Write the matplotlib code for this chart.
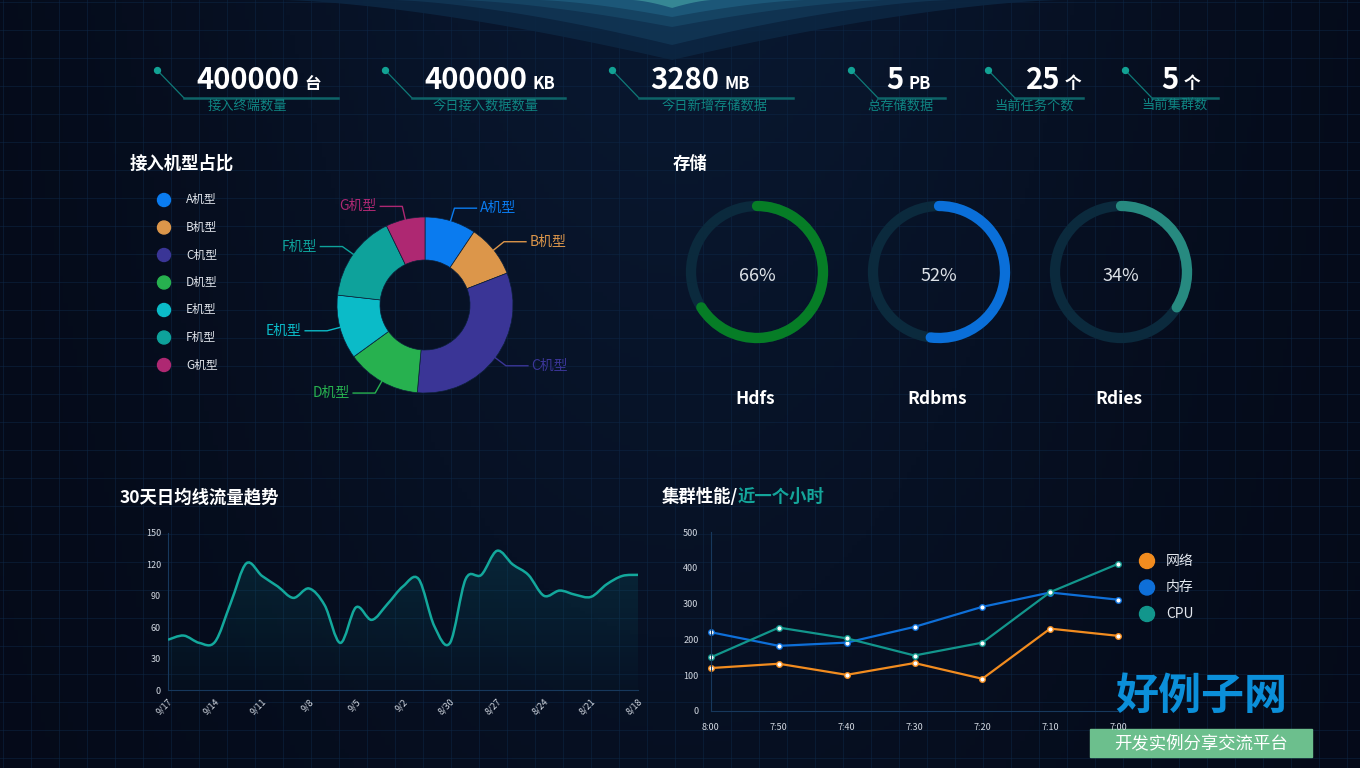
import numpy as np
import pandas as pd
import matplotlib
matplotlib.use('Agg')
import matplotlib.pyplot as plt
from matplotlib.path import Path
from matplotlib.patches import PathPatch, Arc, Circle, Rectangle

plt.rcParams['font.family'] = ['Noto Sans CJK SC', 'DejaVu Sans']

# ---- data ----
kpi_values = ['400000', '400000', '3280', '5', '25', '5']
kpi_units = ['台', 'KB', 'MB', 'PB', '个', '个']
kpi_labels = ['接入终端数量', '今日接入数据数量', '今日新增存储数据', '总存储数据', '当前任务个数', '当前集群数']

pie_names = ['A机型', 'B机型', 'C机型', 'D机型', 'E机型', 'F机型', 'G机型']
pie_values = [94, 97, 323, 136, 118, 160, 72]
pie_colors = ['#0a7bef', '#dc964a', '#3a3596', '#27b14f', '#0bbbc8', '#0ea29b', '#ae2872']

gauge_names = ['Hdfs', 'Rdbms', 'Rdies']
gauge_values = [66, 52, 34]
gauge_colors = ['#067d26', '#0a6fd9', '#278a80']

flow_dates = [f'{d.month}/{d.day}' for d in pd.date_range('2019-08-18', '2019-09-17')[::-1]]
flow_values = [48, 52, 45, 46, 83, 121, 109, 99, 88, 97, 81, 45, 79, 67, 82, 99, 106, 61, 45,
               106, 110, 133, 120, 110, 90, 95, 91, 89, 101, 109, 110]

perf_times = ['8:00', '7:50', '7:40', '7:30', '7:20', '7:10', '7:00']
perf_series = ['网络', '内存', 'CPU']
perf_net = [120, 132, 101, 134, 90, 230, 210]
perf_mem = [220, 182, 191, 235, 291, 331, 311]
perf_cpu = [150, 233, 203, 155, 191, 332, 411]
perf_colors = ['#f28c1f', '#0e6fd8', '#12968c']

W, H = 1360, 768
TEAL = '#13a89c'
AXIS = '#17385c'
TICK = '#d3d9e2'


def fig_rect(x0, y0, x1, y1):
    # pixel box -> figure fraction
    return [x0 / W, 1 - y1 / H, (x1 - x0) / W, (y1 - y0) / H]


def smooth_path(x, y):
    verts = [(x[0], y[0])]
    codes = [Path.MOVETO]
    n = len(x)
    for i in range(n - 1):
        xa, ya = (x[i - 1], y[i - 1]) if i > 0 else (x[i], y[i])
        xd, yd = (x[i + 2], y[i + 2]) if i + 2 < n else (x[i + 1], y[i + 1])
        c1 = (x[i] + (x[i + 1] - xa) / 6, y[i] + (y[i + 1] - ya) / 6)
        c2 = (x[i + 1] - (xd - x[i]) / 6, y[i + 1] - (yd - y[i]) / 6)
        verts += [c1, c2, (x[i + 1], y[i + 1])]
        codes += [Path.CURVE4] * 3
    return verts, codes


fig = plt.figure(figsize=(13.6, 7.68), dpi=100)

# ---- background ----
bg = fig.add_axes([0, 0, 1, 1])
bg.set_xlim(0, W)
bg.set_ylim(H, 0)
bg.axis('off')
gx = np.linspace(0, 1, 300)
gy = np.linspace(0, 1, 200)
GX, GY = np.meshgrid(gx, gy)
glow = np.exp(-((GX - 0.5) / 0.35) ** 2) * (1 - 0.6 * GY)
c0 = np.array([5, 10, 24]) / 255
c1 = np.array([9, 24, 48]) / 255
img = c0 + (c1 - c0) * glow[..., None]
bg.imshow(img, extent=[0, W, H, 0], aspect='auto', zorder=0)

for gxp in np.arange(3, W, 28):
    bg.plot([gxp, gxp], [0, H], color='#0e2848', lw=0.7, alpha=0.5, zorder=1)
for gyp in np.arange(2, H, 28):
    bg.plot([0, W], [gyp, gyp], color='#0e2848', lw=0.7, alpha=0.5, zorder=1)

xs = np.linspace(0, W, 800)
bands = [(60, 390, '#0c2642'), (45, 280, '#113554'), (27, 215, '#164565'),
         (17, 135, '#1d5a7b'), (8, 40, '#3a8d98')]
for depth, half, col in bands:
    t = np.clip(1 - np.abs(xs - 672) / half, 0, None)
    yy = depth * t ** 1.5
    bg.fill_between(xs, 0, yy, color=col, lw=0, alpha=0.9, zorder=2)

# ---- KPI row ----
kpi_dot_x = [157, 385, 612, 851, 988, 1125]
kpi_line_end = [338, 565, 793, 945, 1083, 1218]
kpi_split = [299, 527, 719, 904, 1060, 1179]
kpi_label_x = [247, 486, 715, 901, 1034, 1175]
for i in range(len(kpi_values)):
    dx = kpi_dot_x[i]
    bg.plot([dx, dx + 27], [70, 98], color='#0f7a78', lw=0.9, zorder=3)
    bg.plot([dx + 27, kpi_line_end[i]], [98, 98], color='#0e6468', lw=1.8, zorder=3)
    bg.scatter([dx], [70], s=18, color='#12a294', zorder=4)
    bg.text(kpi_split[i], 80, kpi_values[i], color='white', fontsize=21, fontweight='bold',
            ha='right', va='center', zorder=5)
    bg.text(kpi_split[i] + 5, 84, kpi_units[i], color='white', fontsize=12, fontweight='bold',
            ha='left', va='center', zorder=5)
    bg.text(kpi_label_x[i], 106, kpi_labels[i], color='#0f8583', fontsize=9.5,
            ha='center', va='center', zorder=5)

# ---- section titles ----
bg.text(130, 164, '接入机型占比', color='white', fontsize=12.5, fontweight='bold', va='center', zorder=5)
bg.text(673, 164, '存储', color='white', fontsize=12.5, fontweight='bold', va='center', zorder=5)
bg.text(120, 497, '30天日均线流量趋势', color='white', fontsize=12.5, fontweight='bold', va='center', zorder=5)
bg.text(662, 497, '集群性能/', color='white', fontsize=12.5, fontweight='bold', va='center', zorder=5)
bg.text(738, 497, '近一个小时', color='#14a59a', fontsize=12.5, fontweight='bold', va='center', zorder=5)

# ---- pie legend ----
for i, name in enumerate(pie_names):
    yy = 200 + i * 27.5
    bg.add_patch(Circle((164, yy), 6.5, color=pie_colors[i], zorder=5))
    bg.text(186, yy, name, color='#dfe3ea', fontsize=8.5, va='center', zorder=5)

# ---- donut ----
pcx, pcy, pr = 425, 305, 88
pax = fig.add_axes(fig_rect(pcx - 180, pcy - 150, pcx + 180, pcy + 150))
wedges, _ = pax.pie(pie_values, colors=pie_colors, startangle=90, counterclock=False, radius=1,
                    wedgeprops=dict(width=43 / 88, linewidth=0.5, edgecolor='#0b2038'))
pax.set_xlim(-180 / pr, 180 / pr)
pax.set_ylim(-150 / pr, 150 / pr)
pax.axis('off')
for w, name, col in zip(wedges, pie_names, pie_colors):
    mid = np.deg2rad((w.theta1 + w.theta2) / 2)
    d = np.array([np.cos(mid), np.sin(mid)])
    p1 = d * 1.0
    p2 = d * 1.15
    sgn = 1 if d[0] >= 0 else -1
    p3 = p2 + np.array([sgn * 0.25, 0])
    pax.plot([p1[0], p2[0], p3[0]], [p1[1], p2[1], p3[1]], color=col, lw=1)
    pax.text(p3[0] + sgn * 0.04, p3[1], name, color=col, fontsize=10,
             ha='left' if sgn > 0 else 'right', va='center')

# ---- gauges ----
gauge_x = [757, 939, 1121]
for gx0, name, val, col in zip(gauge_x, gauge_names, gauge_values, gauge_colors):
    bg.add_patch(Circle((gx0, 272), 66, fill=False, lw=7.4, edgecolor='#0b2a3d', zorder=4))
    bg.add_patch(Arc((gx0, 272), 132, 132, theta1=-90, theta2=-90 + 3.6 * val,
                     lw=7.4, color=col, capstyle='round', zorder=5))
    bg.text(gx0, 276, f'{val}%', color='#dde2e8', fontsize=13, ha='center', va='center', zorder=6)
    bg.text(gx0 - 2, 399, name, color='white', fontsize=12.5, fontweight='bold',
            ha='center', va='center', zorder=6)

# ---- 30 day flow line ----
fax = fig.add_axes(fig_rect(168, 533, 638, 690))
fax.patch.set_alpha(0)
fx = np.arange(len(flow_values))
verts, codes = smooth_path(fx, flow_values)
fill_path = Path(verts + [(fx[-1], 0), (fx[0], 0), (fx[0], flow_values[0])],
                 codes + [Path.LINETO, Path.LINETO, Path.CLOSEPOLY])
fill_patch = PathPatch(fill_path, facecolor='none', edgecolor='none')
fax.add_patch(fill_patch)
grad = np.zeros((100, 2, 4))
grad[..., 0] = 0.05
grad[..., 1] = 0.45
grad[..., 2] = 0.5
grad[..., 3] = np.linspace(0.25, 0.03, 100)[:, None]
gim = fax.imshow(grad, extent=[0, 30, 0, 150], origin='upper', aspect='auto', zorder=1)
gim.set_clip_path(fill_patch)
fax.add_patch(PathPatch(Path(verts, codes), facecolor='none', edgecolor=TEAL, lw=1.8, zorder=3))
fax.set_xlim(0, 30)
fax.set_ylim(0, 150)
fax.set_yticks(range(0, 151, 30))
fax.set_xticks(fx[::3])
fax.set_xticklabels(flow_dates[::3], rotation=45, ha='right', rotation_mode='anchor')
fax.tick_params(colors=TICK, labelsize=6.5, length=0, pad=5)
for s in ['top', 'right']:
    fax.spines[s].set_visible(False)
for s in ['left', 'bottom']:
    fax.spines[s].set_color(AXIS)

# ---- cluster performance ----
cax = fig.add_axes(fig_rect(711, 532, 1118, 711))
cax.patch.set_alpha(0)
px = np.arange(len(perf_times))
for vals, col in zip([perf_net, perf_mem, perf_cpu], perf_colors):
    cax.plot(px, vals, color=col, lw=1.6, marker='o', markersize=4,
             markerfacecolor='white', markeredgecolor=col, markeredgewidth=1, clip_on=False)
cax.set_xlim(0, 6)
cax.set_ylim(0, 500)
cax.set_xticks(px)
cax.set_xticklabels(perf_times)
cax.set_yticks(range(0, 501, 100))
cax.tick_params(colors=TICK, labelsize=6.5, length=0, pad=9)
for s in ['top', 'right']:
    cax.spines[s].set_visible(False)
for s in ['left', 'bottom']:
    cax.spines[s].set_color(AXIS)

for i, (name, col) in enumerate(zip(perf_series, perf_colors)):
    yy = 561 + i * 26.5
    bg.add_patch(Circle((1147, yy), 7.5, color=col, zorder=5))
    bg.text(1166, yy, name, color='#e3e7ee', fontsize=10, va='center', zorder=5)

# ---- site watermark ----
bg.text(1201, 696, '好例子网', color='#0b8fd9', fontsize=31, fontweight='bold',
        ha='center', va='center', zorder=8)
bg.add_patch(Rectangle((1090, 729), 222, 28, color='#6cbf8d', zorder=8))
bg.text(1201, 743, '开发实例分享交流平台', color='white', fontsize=12.5,
        ha='center', va='center', zorder=9)

fig.savefig('out.png', dpi=100, facecolor='#060d1f')
